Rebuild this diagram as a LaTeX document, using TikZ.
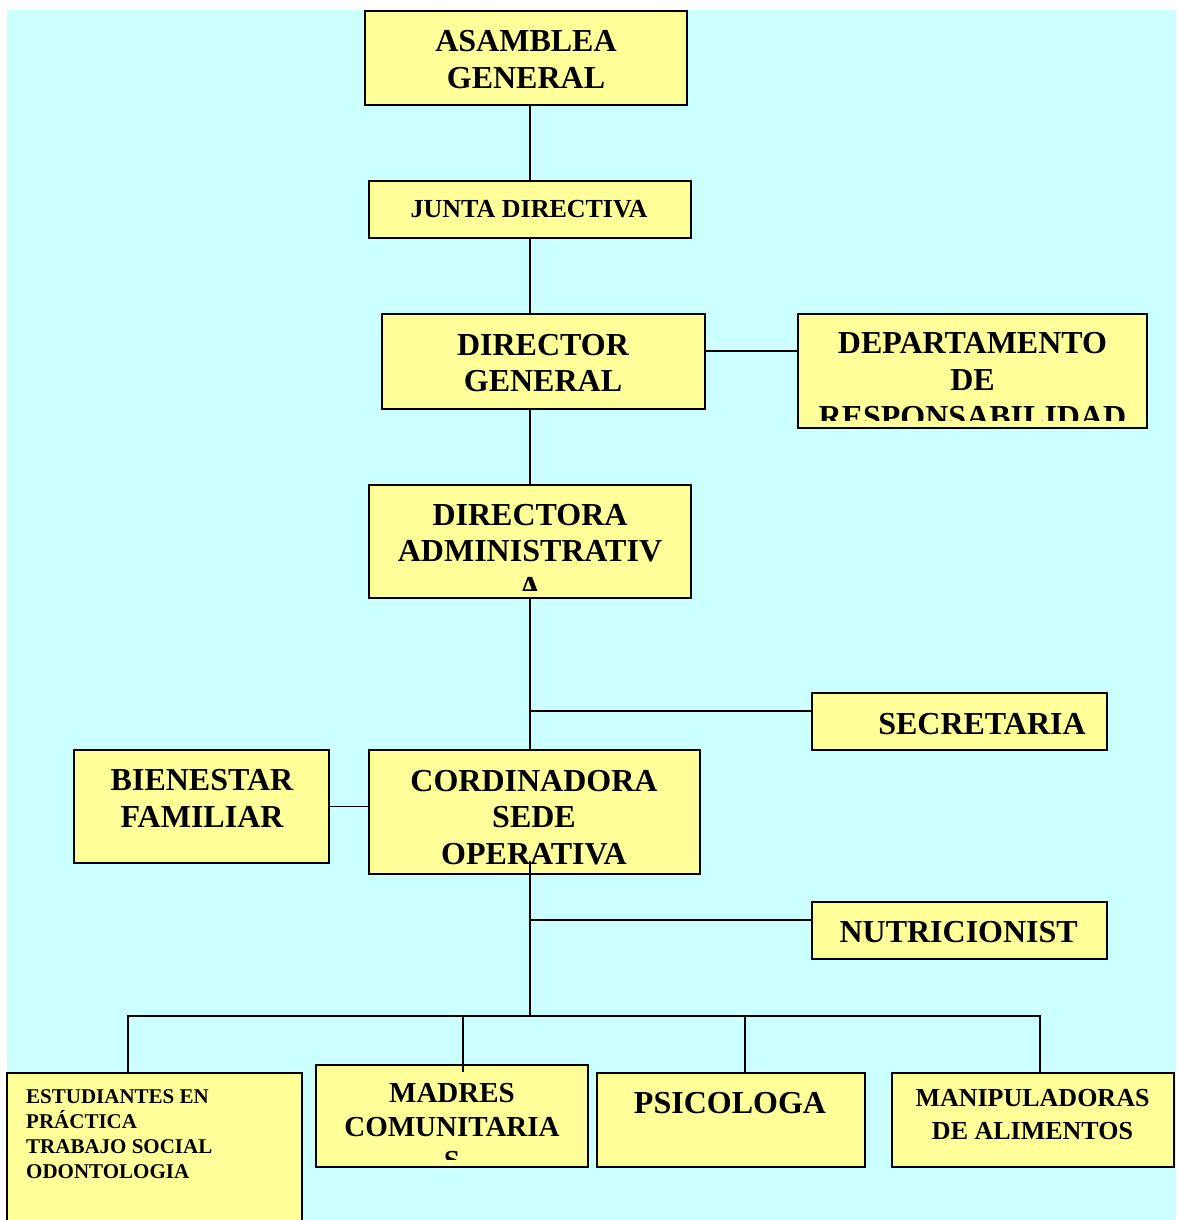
\documentclass[tikz,border=0pt]{standalone}
\usepackage{fontspec}
\setmainfont{Liberation Serif}
\usetikzlibrary{calc}
\definecolor{bgcyan}{HTML}{CCFFFF}
\definecolor{boxfill}{HTML}{FFFF99}
\begin{document}
\begin{tikzpicture}[x=1pt,y=-1pt,
  box/.style={draw=black, fill=boxfill, line width=2pt, inner sep=0pt, rectangle},
  lbl/.style={inner sep=0pt, anchor=north, align=center, font=\bfseries\fontsize{32}{36.5}\selectfont},
  conn/.style={draw=black, line width=1.7pt}]
\useasboundingbox (0,0) rectangle (1176,1220);
\fill[bgcyan] (7,10) rectangle (1176,1220);

% boxes
\node[box, minimum width=322pt, minimum height=94pt]  (A)   at (526,58) {};
\node[box, minimum width=322pt, minimum height=57pt]  (J)   at (530,209.5) {};
\node[box, minimum width=323pt, minimum height=95pt]  (DG)  at (543.5,361.5) {};
\node[box, minimum width=349pt, minimum height=114pt] (DEP) at (972.5,371) {};
\node[box, minimum width=322pt, minimum height=113pt] (DA)  at (530,541.5) {};
\node[box, minimum width=295pt, minimum height=57pt]  (SEC) at (959.5,721.5) {};
\node[box, minimum width=255pt, minimum height=113pt] (BF)  at (201.5,806.5) {};
\node[box, minimum width=331pt, minimum height=124pt] (CSO) at (534.5,812) {};
\node[box, minimum width=295pt, minimum height=57pt]  (NUT) at (959.5,930.5) {};
\node[box, minimum width=295pt, minimum height=160pt] (EST) at (154.5,1153) {};
\node[box, minimum width=272pt, minimum height=102pt] (MAD) at (452,1116) {};
\node[box, minimum width=268pt, minimum height=94pt]  (PSI) at (731,1120) {};
\node[box, minimum width=282pt, minimum height=94pt]  (MAN) at (1033,1120) {};

% texts
\node[lbl, font=\bfseries\fontsize{32}{37}\selectfont] (tA) at (526,30) {ASAMBLEA\\GENERAL};
\node[lbl, font=\bfseries\fontsize{26}{30}\selectfont] (tJ) at (529,200) {JUNTA DIRECTIVA};
\node[lbl] (tDG) at (543,334) {DIRECTOR\\GENERAL};
\begin{scope}
  \clip (DEP.north west) rectangle ($(DEP.south east)+(0,-9)$);
  \node[lbl, font=\bfseries\fontsize{32}{37}\selectfont] (tDEP) at (972.5,332.5) {DEPARTAMENTO\\DE\\RESPONSABILIDAD};
\end{scope}
\begin{scope}
  \clip (DA.north west) rectangle ($(DA.south east)+(0,-9)$);
  \node[lbl] (tDA) at (530,504) {DIRECTORA\\ADMINISTRATIV\\A};
\end{scope}
\node[lbl] (tSEC) at (982,713) {SECRETARIA};
\node[lbl, font=\bfseries\fontsize{32}{37}\selectfont] (tBF) at (202,769.5) {BIENESTAR\\FAMILIAR};
\node[lbl] (tCSO) at (534,770) {CORDINADORA\\SEDE\\OPERATIVA};
\node[lbl] (tNUT) at (958.7,921) {NUTRICIONIST};
\node[lbl, anchor=north west, align=left, font=\bfseries\fontsize{21}{25}\selectfont] (tEST) at (26,1089)
  {ESTUDIANTES EN\\PRÁCTICA\\TRABAJO SOCIAL\\ODONTOLOGIA};
\begin{scope}
  \clip (MAD.north west) rectangle ($(MAD.south east)+(0,-9)$);
  \node[lbl, font=\bfseries\fontsize{29}{34}\selectfont] (tMAD) at (452,1083) {MADRES\\COMUNITARIA\\S};
\end{scope}
\node[lbl] (tPSI) at (730,1092) {PSICOLOGA};
\node[lbl, font=\bfseries\fontsize{26}{33}\selectfont] (tMAN) at (1032.5,1089.5) {MANIPULADORAS\\DE ALIMENTOS};

% connector helper coordinates
\coordinate (depY) at ($(DEP.north west)+(0,38)$);
\coordinate (secY) at ($(SEC.north west)+(0,19)$);
\coordinate (nutY) at ($(NUT.north west)+(0,19)$);
\coordinate (csoIn) at ($(CSO.south -| DA.south)+(0,-14)$);
\coordinate (busM) at (530,1016);
\coordinate (busL) at (128,1016);
\coordinate (busR) at (1040,1016);
\coordinate (busMad) at (463,1016);
\coordinate (madIn) at (463,1072);
\coordinate (busPsi) at (745,1016);

% connectors
\draw[conn] (J.north |- A.south) -- (J.north);
\draw[conn] (J.south) -- (J.south |- DG.north);
\draw[conn] (DA.north |- DG.south) -- (DA.north);
\draw[conn] (depY -| DG.east) -- (depY);
\draw[conn] (DA.south) -- (DA.south |- CSO.north);
\draw[conn] (DA.south |- secY) -- (secY);
\draw[conn] (BF.east) -- (BF.east -| CSO.west);
\draw[conn] (csoIn) -- (busM);
\draw[conn] (busM |- nutY) -- (nutY);
\draw[conn] (busL |- EST.north) -- (busL) -- (busR) -- (busR |- MAN.north);
\draw[conn] (busMad) -- (madIn);
\draw[conn] (busPsi) -- (busPsi |- PSI.north);
\end{tikzpicture}
\end{document}
